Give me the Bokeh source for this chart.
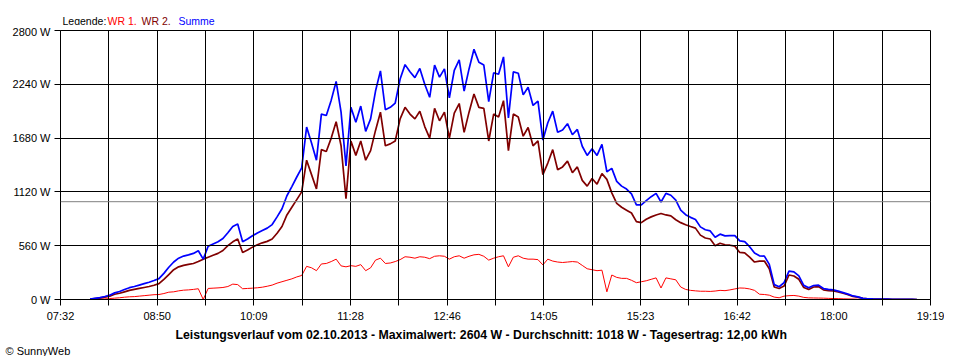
from bokeh.plotting import figure
from bokeh.layouts import column
from bokeh.models import (Range1d, FixedTicker, CustomJSTickFormatter,
                          PrintfTickFormatter, Span, Title)
from bokeh.core.properties import value
from bokeh.embed import file_html
from bokeh.resources import INLINE

# ---------------- data ----------------
x_labels = ["07:32", "08:50", "10:09", "11:28", "12:46", "14:05",
            "15:23", "16:42", "18:00", "19:19"]
axis_start_min = 452      # 07:32 in minutes after midnight
axis_end_min = 1159       # 19:19
y_ticks = [0, 560, 1120, 1680, 2240, 2800]
first_sample_min = 476    # 07:56
sample_step_min = 4
average_w = 1018

wr1 = [0, 2, 4, 6, 10, 14, 18, 24, 28, 30,
       35, 40, 45, 50, 52, 62, 76, 80, 90, 97,
       100, 105, 112, 0, 115, 118, 121, 125, 135, 160,
       155, 112, 115, 118, 122, 128, 138, 150, 170, 185,
       200, 215, 235, 250, 345, 330, 300, 370, 375, 395,
       420, 350, 340, 352, 345, 363, 300, 330, 410, 430,
       375, 380, 395, 415, 445, 440, 430, 445, 440, 425,
       450, 455, 450, 420, 445, 455, 430, 450, 465, 470,
       450, 410, 430, 445, 455, 340, 440, 455, 430, 420,
       420, 415, 360, 420, 400, 390, 385, 390, 395, 390,
       355, 320, 310, 300, 305, 80, 255, 230, 220, 220,
       200, 175, 185, 195, 210, 225, 120, 225, 215, 205,
       130, 105, 95, 90, 86, 86, 84, 88, 95, 92,
       100, 110, 120, 118, 110, 95, 55, 52, 45, 25,
       18, 35, 40, 42, 35, 22, 17, 16, 15, 14,
       12, 10, 9, 7, 6, 5, 3, 0, 0, 0,
       0, 0, 0, 0, 0, 0, 0, 0, 0]

wr2 = [5, 10, 15, 25, 35, 55, 65, 80, 95, 105,
       115, 125, 135, 148, 165, 210, 260, 310, 340, 355,
       365, 375, 395, 420, 440, 460, 480, 510, 560, 600,
       630, 490, 515, 545, 570, 590, 605, 630, 690, 760,
       880, 960, 1040, 1120, 1450, 1300, 1150, 1560, 1540, 1680,
       1850, 1600, 1050, 1650, 1500, 1650, 1450, 1550, 1760, 1950,
       1600, 1620, 1650, 1880, 2000, 1930, 1880, 1960, 1800, 1680,
       1990, 1860, 1950, 1680, 1940, 2040, 1740, 1950, 2139, 2000,
       1990, 1650, 1930, 1900, 2070, 1550, 1930, 1900, 1700, 1790,
       1600, 1650, 1300, 1420, 1560, 1350, 1380, 1440, 1320, 1380,
       1240, 1180, 1260, 1200, 1310, 1250, 1110, 1000, 960, 930,
       900, 810, 800, 835, 860, 880, 895, 880, 870, 830,
       800, 778, 760, 743, 670, 640, 630, 560, 585, 570,
       565, 555, 490, 485, 440, 390, 400, 400, 320, 130,
       115, 140, 255, 245, 210, 125, 105, 130, 135, 100,
       93, 90, 78, 65, 50, 32, 24, 12, 8, 6,
       5, 4, 3, 2, 2, 2, 2, 2, 0]

summe = [a + b for a, b in zip(wr1, wr2)]
times = [first_sample_min + sample_step_min * i for i in range(len(wr1))]

legend_texts = ["Legende:", "WR 1,", "WR 2,", "Summe"]
legend_colors = ["black", "#FF0000", "#800000", "#0000FF"]
title_text = ("Leistungsverlauf vom 02.10.2013 - Maximalwert: 2604 W - "
              "Durchschnitt: 1018 W - Tagesertrag: 12,00 kWh")
credit_text = "© SunnyWeb"

FONT = "Liberation Sans"
W = 944
FRAME_L, FRAME_R = 60, 930   # page pixels of the plotting frame

# ---------------- legend strip (top) ----------------
top = figure(width=W, height=25, title=None, output_backend="svg",
             toolbar_location=None, x_range=Range1d(FRAME_L, FRAME_R),
             y_range=Range1d(0, 25), x_axis_location=None,
             y_axis_location=None, min_border_left=FRAME_L,
             min_border_right=W - FRAME_R, min_border_top=0,
             min_border_bottom=0)
top.grid.visible = False
top.outline_line_color = None
top.text(x=[62, 107, 141, 178], y=[5, 5, 5, 5], text=legend_texts,
         text_color=legend_colors, text_font=value(FONT),
         text_font_size="10.5px", text_baseline="alphabetic")

# ---------------- main chart ----------------
p = figure(width=W, height=331, title=None, output_backend="svg",
           toolbar_location=None,
           x_range=Range1d(axis_start_min, axis_end_min),
           y_range=Range1d(0, 2800),
           min_border_left=FRAME_L, min_border_right=W - FRAME_R,
           min_border_top=5, min_border_bottom=56)
p.background_fill_color = "white"
p.border_fill_color = "white"
p.outline_line_color = "black"
p.outline_line_width = 1

n_grid = 18
dt = (axis_end_min - axis_start_min) / n_grid
p.xaxis.ticker = FixedTicker(ticks=[axis_start_min + k * dt for k in range(n_grid + 1)],
                             minor_ticks=[])
p.xaxis.formatter = CustomJSTickFormatter(
    args=dict(labels=x_labels, t0=axis_start_min, dt=dt),
    code="""
const k = Math.round((tick - t0) / dt);
return (k % 2 == 0) ? labels[k / 2] : "";
""")
p.yaxis.ticker = FixedTicker(ticks=y_ticks, minor_ticks=[])
p.yaxis.formatter = PrintfTickFormatter(format="%d W")

for ax in (p.xaxis, p.yaxis):
    ax.axis_line_color = "black"
    ax.major_tick_line_color = "black"
    ax.major_tick_in = 0
    ax.major_tick_out = 6
    ax.minor_tick_line_color = None
    ax.major_label_text_font = FONT
    ax.major_label_text_font_size = "11px"
    ax.major_label_text_color = "black"
    ax.major_label_standoff = 4

for g in (p.xgrid, p.ygrid):
    g.grid_line_color = "black"
    g.grid_line_width = 1
    g.grid_line_alpha = 1.0
    g.level = "overlay"

p.add_layout(Span(location=average_w, dimension="width", line_color="#808080",
                  line_width=1, level="overlay"))

p.line(times, wr1, line_color="#FF0000", line_width=1)
p.line(times, wr2, line_color="#800000", line_width=1.7)
p.line(times, summe, line_color="#0000FF", line_width=1.7)

p.add_layout(Title(text=title_text, align="left", offset=115, standoff=2,
                   text_font=FONT, text_font_size="12.3px",
                   text_font_style="bold", text_color="black"), "below")
p.add_layout(Title(text=credit_text, align="left", offset=-55, standoff=0,
                   text_font=FONT, text_font_size="11px",
                   text_font_style="normal", text_color="black"), "below")

layout = column(top, p, spacing=0)
open("out.html", "w").write(file_html(layout, INLINE))
